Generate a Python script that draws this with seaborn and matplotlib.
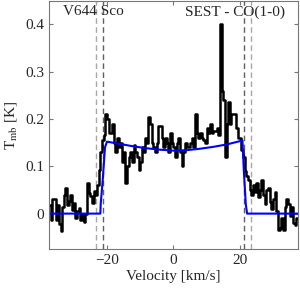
import numpy as np
import pandas as pd
import matplotlib
matplotlib.use("Agg")
import matplotlib.pyplot as plt
import seaborn as sns

# observed spectrum: 0.5 km/s channels from -37.25 to 37.25 km/s
velocity = np.arange(-37.25, 37.5, 0.5)
tmb = [
    # -37.25 .. -18.75
    0.019, -0.013, 0.030, 0.030, -0.013, 0.019, -0.023, -0.037, 0.015, 0.040,
    0.054, 0.019, 0.026, 0.040, 0.008, 0.022, -0.010, 0.005, 0.012, -0.013,
    0.000, -0.017, 0.000, 0.065, 0.044, 0.037, 0.022, 0.047, 0.040, 0.060,
    0.093, 0.130, 0.155, 0.166, 0.210, 0.200, 0.170, 0.170,
    # -18.25 .. 22.75
    0.190, 0.150, 0.130, 0.160, 0.140, 0.150, 0.110, 0.130, 0.065, 0.100,
    0.120, 0.130, 0.110, 0.145, 0.130, 0.120, 0.093, 0.110, 0.140, 0.130,
    0.160, 0.150, 0.205, 0.190, 0.150, 0.140, 0.130, 0.150, 0.185, 0.185,
    0.160, 0.140, 0.160, 0.150, 0.130, 0.170, 0.150, 0.140, 0.120, 0.150,
    0.160, 0.130, 0.100, 0.130, 0.150, 0.140, 0.140, 0.150, 0.160, 0.140,
    0.210, 0.170, 0.160, 0.170, 0.160, 0.155, 0.150, 0.180, 0.170, 0.190,
    0.170, 0.175, 0.175, 0.180, 0.165, 0.400, 0.260, 0.240, 0.120, 0.190,
    0.235, 0.190, 0.210, 0.210, 0.210, 0.180, 0.160, 0.160, 0.135, 0.120,
    0.090, 0.080, 0.070,
    # 23.25 .. 37.25
    0.050, 0.040, 0.060, 0.045, 0.065, 0.035, 0.050, 0.070, 0.040, 0.020,
    0.050, 0.055, 0.025, 0.010, 0.030, 0.045, 0.005, -0.035, -0.030, -0.010,
    -0.035, 0.015, 0.030, 0.020, -0.005, 0.015, -0.020, -0.025, -0.010,
]

# model profile
model_v = [-37.5, -22.0, -21.9, -21.3, -20.6, -20.0, -16.0, -12.0, -8.0, -4.0, 0.0,
           4.0, 8.0, 12.0, 16.0, 20.0, 20.8, 21.2, 21.8, 22.2, 37.5]
model_t = [0.0, 0.0, 0.02, 0.07, 0.14, 0.152, 0.147, 0.142, 0.138, 0.135, 0.133,
           0.134, 0.137, 0.141, 0.146, 0.153, 0.155, 0.093, 0.02, 0.0, 0.0]

# velocity limits (inner / outer)
vlines_inner = [-21.1, 21.3]
vlines_outer = [-23.4, 23.5]

sns.set_theme(style="ticks")
plt.rcParams['font.family'] = ['Liberation Serif', 'DejaVu Serif']
plt.rcParams['mathtext.fontset'] = 'stix'

spec = pd.DataFrame({'v': velocity, 'T': tmb})
model = pd.DataFrame({'v': model_v, 'T': model_t})

fig = plt.figure(figsize=(3.0, 2.9), dpi=100)
ax = fig.add_axes([0.163, 0.141, 0.830, 0.857])

for v in vlines_outer:
    ax.axvline(v, color='#a8a8a8', ls=(0, (4, 2.5)), lw=1.0)
for v in vlines_inner:
    ax.axvline(v, color='#606060', ls=(0, (4, 2.5)), lw=1.0)

sns.lineplot(data=spec, x='v', y='T', ax=ax, color='black', lw=1.8,
             drawstyle='steps-mid', estimator=None)
sns.lineplot(data=model, x='v', y='T', ax=ax, color='#0000ff', lw=1.5,
             estimator=None, sort=False)

ax.set_xlim(-37.5, 37.5)
ax.set_ylim(-0.075, 0.45)
ax.set_xticks([-20, 0, 20])
ax.set_yticks([0, 0.1, 0.2, 0.3, 0.4])
ax.set_yticklabels(['0', '0.1', '0.2', '0.3', '0.4'])
ax.tick_params(direction='in', length=3, width=0.8, top=True, right=True,
               labelsize=11, colors='#777777', labelcolor='#262626')
for s in ax.spines.values():
    s.set_color('#777777')
    s.set_linewidth(0.8)

ax.set_xlabel('Velocity [km/s]', fontsize=11, color='#262626', labelpad=2)
ax.set_ylabel(r'T$_{\rm mb}$ [K]', fontsize=11, color='#262626', labelpad=4)

ax.text(0.055, 0.955, 'V644 Sco', transform=ax.transAxes, fontsize=11,
        color='#262626', va='center', ha='left')
ax.text(0.95, 0.955, 'SEST - CO(1-0)', transform=ax.transAxes, fontsize=11,
        color='#262626', va='center', ha='right')

fig.savefig('out.png', dpi=100)
